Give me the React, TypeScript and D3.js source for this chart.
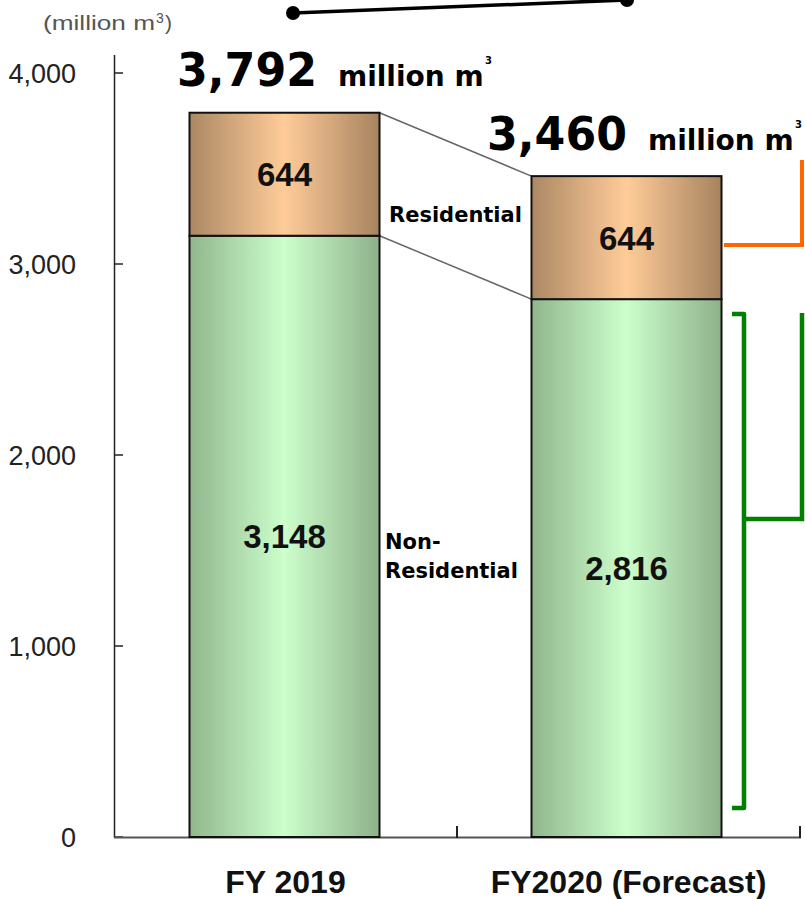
import React from "react";
import * as d3 from "d3";

const categories = ["FY 2019", "FY2020 (Forecast)"];
const nonResidential = [3148, 2816];
const residential = [644, 644];
const totals = [3792, 3460];
const yTicks = [0, 1000, 2000, 3000, 4000];
const unitLabel = "(million m";
const totalUnit = "million m";
const resLabel = "Residential";
const nonResLabel = ["Non-", "Residential"];

const W = 805;
const H = 899;

export default function App() {
  const y = d3.scaleLinear().domain([0, 4000]).range([837, 73]);
  const x = d3.scaleBand().domain(categories).range([114, 800]).padding(0);
  const barW = 190;
  const fmt = d3.format(",");
  const bx = (c: string, i: number) => (x(c) as number) + x.bandwidth() / 2 - barW / 2 - (i === 0 ? 1 : 2);

  const series = [
    { key: "non", vals: nonResidential, grad: "url(#gGreen)" },
    { key: "res", vals: residential, grad: "url(#gBrown)" },
  ];

  return (
    <svg width={W} height={H} style={{ position: "absolute", left: 0, top: 0, background: "#fff" }}>
      <defs>
        <linearGradient id="gBrown" x1="0" x2="1" y1="0" y2="0">
          <stop offset="0%" stopColor="#ab8864" />
          <stop offset="50%" stopColor="#ffcc99" />
          <stop offset="100%" stopColor="#a6835f" />
        </linearGradient>
        <linearGradient id="gGreen" x1="0" x2="1" y1="0" y2="0">
          <stop offset="0%" stopColor="#91b68d" />
          <stop offset="50%" stopColor="#ccffcc" />
          <stop offset="100%" stopColor="#8eb08a" />
        </linearGradient>
      </defs>

      {/* unit label */}
      <text x={43} y={30} fontFamily="Liberation Sans, Arial" fontSize={21} fill="#555" textLength={112} lengthAdjust="spacingAndGlyphs">
        {unitLabel}
      </text>
      <text x={156} y={23} fontFamily="Liberation Sans, Arial" fontSize={14} fill="#555">3</text>
      <text x={165} y={30} fontFamily="Liberation Sans, Arial" fontSize={21} fill="#555">)</text>

      {/* top connector */}
      <line x1={293} y1={13} x2={627} y2={0} stroke="#000" strokeWidth={3.5} />
      <circle cx={293} cy={13} r={7} fill="#000" />
      <circle cx={627} cy={0} r={7} fill="#000" />

      {/* y axis */}
      <line x1={114.5} y1={55} x2={114.5} y2={838} stroke="#222" strokeWidth={1.5} />
      {yTicks.map((t) => (
        <g key={t}>
          <line x1={114} x2={123} y1={y(t)} y2={y(t)} stroke="#222" strokeWidth={1.5} />
          <text x={76} y={y(t) + 10} textAnchor="end" fontFamily="Liberation Sans, Arial" fontSize={27} fill="#222">
            {fmt(t)}
          </text>
        </g>
      ))}

      {/* x axis */}
      <line x1={114} x2={801} y1={837.5} y2={837.5} stroke="#555" strokeWidth={2} />
      {categories.map((c) => (
        <line key={c} x1={(x(c) as number) + x.bandwidth()} x2={(x(c) as number) + x.bandwidth()} y1={826} y2={838} stroke="#222" strokeWidth={2} />
      ))}

      {/* connector lines between bars */}
      {[totals, nonResidential].map((arr, k) => (
        <line
          key={k}
          x1={bx(categories[0], 0) + barW}
          y1={y(arr[0])}
          x2={bx(categories[1], 1)}
          y2={y(arr[1])}
          stroke="#666"
          strokeWidth={1.5}
        />
      ))}

      {/* bars */}
      {categories.map((c, i) => {
        let base = 0;
        return (
          <g key={c}>
            {series.map((s) => {
              const v0 = base;
              const v1 = base + s.vals[i];
              base = v1;
              return (
                <g key={s.key}>
                  <rect x={bx(c, i)} y={y(v1)} width={barW} height={y(v0) - y(v1)} fill={s.grad} stroke="#111" strokeWidth={2} />
                  <text
                    x={bx(c, i) + barW / 2}
                    y={(y(v0) + y(v1)) / 2 + 12}
                    textAnchor="middle"
                    fontFamily="Liberation Sans, Arial"
                    fontWeight="bold"
                    fontSize={33}
                    fill="#111"
                  >
                    {fmt(s.vals[i])}
                  </text>
                </g>
              );
            })}
          </g>
        );
      })}

      {/* totals */}
      {categories.map((c, i) => {
        const tx = i === 0 ? 177 : 487;
        const ty = i === 0 ? 86 : 150;
        return (
          <g key={c}>
            <text x={tx} y={ty} fontFamily="DejaVu Sans, Verdana" fontWeight="bold" fontSize={47} textLength={140} lengthAdjust="spacingAndGlyphs" fill="#000">
              {fmt(totals[i])}
            </text>
            <text x={tx + 161} y={ty} fontFamily="DejaVu Sans, Verdana" fontWeight="bold" fontSize={28} fill="#000">
              {totalUnit}
            </text>
            <text x={tx + 308} y={ty - 22} fontFamily="DejaVu Sans, Verdana" fontWeight="bold" fontSize={10} fill="#000">
              3
            </text>
          </g>
        );
      })}

      {/* segment labels */}
      <text x={389} y={222} fontFamily="DejaVu Sans, Verdana" fontWeight="bold" fontSize={21} fill="#000">
        {resLabel}
      </text>
      <text fontFamily="DejaVu Sans, Verdana" fontWeight="bold" fontSize={21} fill="#000">
        <tspan x={385} y={549}>{nonResLabel[0]}</tspan>
        <tspan x={385} y={578}>{nonResLabel[1]}</tspan>
      </text>

      {/* brackets */}
      <path d="M724,245 H802 V160" fill="none" stroke="#ff6600" strokeWidth={4} />
      <path d="M732,314 H744 V808 H732" fill="none" stroke="#008000" strokeWidth={4.5} strokeLinejoin="round" />
      <path d="M744,519 H802 V313" fill="none" stroke="#008000" strokeWidth={4.5} />

      {/* x labels */}
      {categories.map((c) => (
        <text
          key={c}
          x={(x(c) as number) + x.bandwidth() / 2}
          y={893}
          textAnchor="middle"
          fontFamily="Liberation Sans, Arial"
          fontWeight="bold"
          fontSize={32}
          fill="#111"
        >
          {c}
        </text>
      ))}
    </svg>
  );
}
